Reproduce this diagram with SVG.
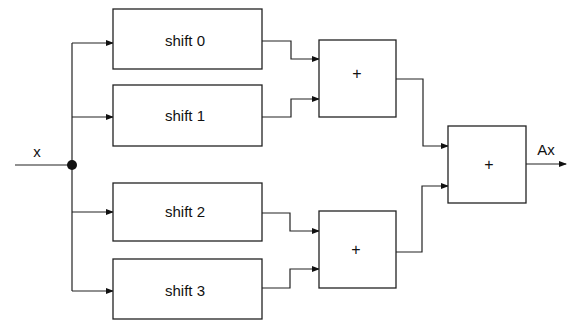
<svg xmlns="http://www.w3.org/2000/svg" width="567" height="320" viewBox="0 0 567 320">
<style>
.box{fill:#fff;stroke:#222;stroke-width:1.3}
.ln{fill:none;stroke:#222;stroke-width:1.2}
.t{font-family:"Liberation Sans",Arial,sans-serif;font-size:15px;fill:#111;text-anchor:middle}
.p{font-family:"Liberation Sans",Arial,sans-serif;font-size:16px;fill:#111;text-anchor:middle}
</style>
<defs>
<marker id="ah" markerWidth="8" markerHeight="6" refX="7" refY="3" orient="auto" markerUnits="userSpaceOnUse">
<path d="M0,0 L8,3 L0,6 z" fill="#111"/>
</marker>
</defs>
<rect width="567" height="320" fill="#fff"/>
<g id="connectors">
<path class="ln" d="M15,165 H72"/>
<path class="ln" d="M72,43 V291"/>
<path class="ln" d="M72,43 H113" marker-end="url(#ah)"/>
<path class="ln" d="M72,117 H113" marker-end="url(#ah)"/>
<path class="ln" d="M72,212 H113" marker-end="url(#ah)"/>
<path class="ln" d="M72,291 H113" marker-end="url(#ah)"/>
<path class="ln" d="M262,41 H291 V59 H319" marker-end="url(#ah)"/>
<path class="ln" d="M262,117 H291 V99 H319" marker-end="url(#ah)"/>
<path class="ln" d="M262,213 H290 V231 H319" marker-end="url(#ah)"/>
<path class="ln" d="M262,288 H290 V269 H319" marker-end="url(#ah)"/>
<path class="ln" d="M396,79 H423 V146 H448" marker-end="url(#ah)"/>
<path class="ln" d="M396,252 H422 V186 H448" marker-end="url(#ah)"/>
<path class="ln" d="M526,164 H566" marker-end="url(#ah)"/>
<circle cx="72" cy="165" r="5" fill="#111"/>
</g>
<g id="label-x"><text x="37" y="157" class="t">x</text></g>
<g id="label-ax"><text x="546" y="155" class="t">Ax</text></g>
<g id="shift0"><rect class="box" x="113" y="9" width="149" height="60"/><text class="t" x="185" y="46">shift 0</text></g>
<g id="shift1"><rect class="box" x="113" y="85" width="149" height="61"/><text class="t" x="185" y="121">shift 1</text></g>
<g id="shift2"><rect class="box" x="113" y="183" width="149" height="58"/><text class="t" x="185" y="217">shift 2</text></g>
<g id="shift3"><rect class="box" x="113" y="259" width="149" height="60"/><text class="t" x="185" y="296">shift 3</text></g>
<g id="add1"><rect class="box" x="319" y="40" width="77" height="77"/><text class="p" x="357" y="79">+</text></g>
<g id="add2"><rect class="box" x="319" y="211" width="77" height="77"/><text class="p" x="356" y="255">+</text></g>
<g id="add3"><rect class="box" x="448" y="126" width="78" height="77"/><text class="p" x="489" y="170">+</text></g>
</svg>
